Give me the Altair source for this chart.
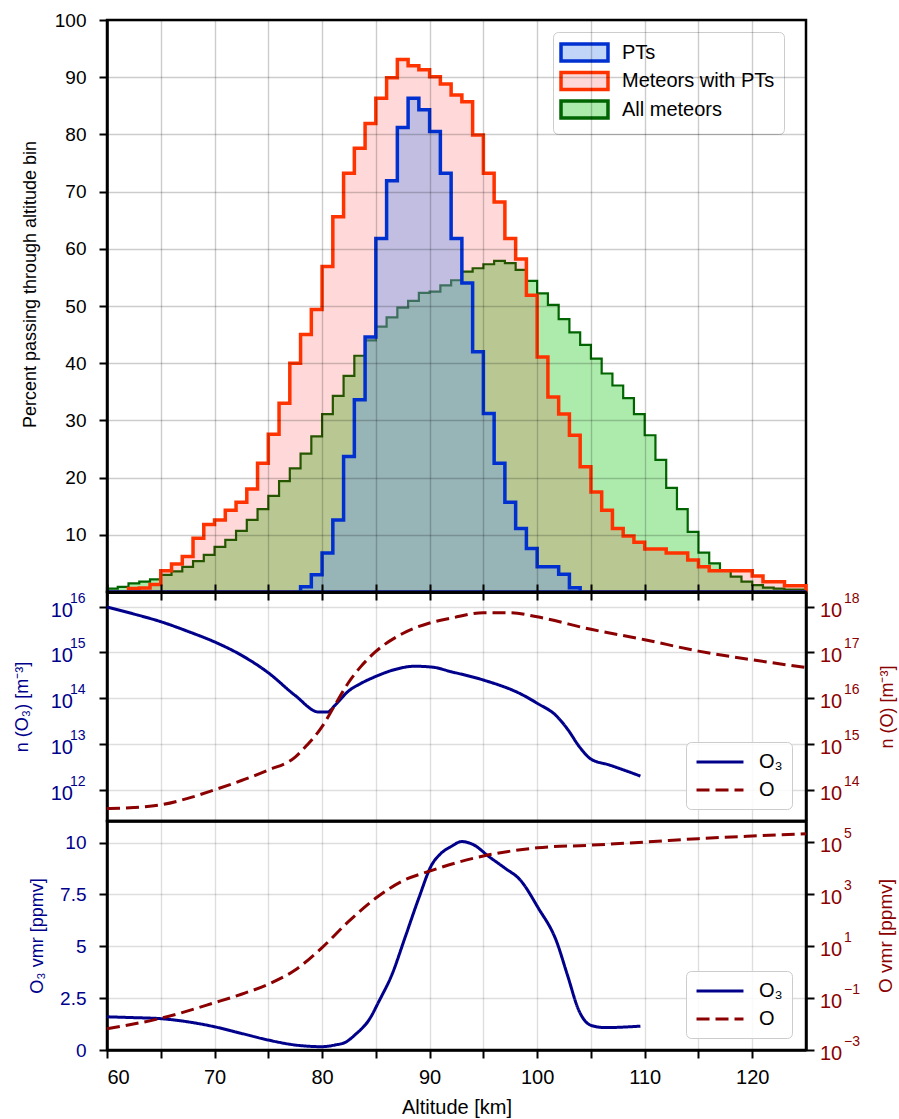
import altair as alt
import pandas as pd

FONT = "Liberation Sans"
NAVY = "#00008b"
DRED = "#8b0000"

# ---------------- histogram: 1 km bins, left edges 60 ... 124 km ----------------
bin_left = list(range(60, 125))
pts = [
    0, 0, 0, 0, 0, 0, 0, 0, 0, 0,                                  # 60-69
    0, 0, 0, 0, 0, 0, 0, 0, 0.9, 3.0,                              # 70-79
    6.8, 12.6, 23.7, 33.6, 44.6, 61.8, 71.9, 81.2, 86.3, 84.3,     # 80-89
    80.5, 73.2, 61.8, 54.0, 42.0, 31.2, 22.5, 15.7, 11.1, 7.6,     # 90-99
    4.4, 4.4, 3.1, 0.75, 0, 0, 0, 0, 0, 0,                         # 100-109
    0, 0, 0, 0, 0, 0, 0, 0, 0, 0,                                  # 110-119
    0, 0, 0, 0, 0,                                                 # 120-124
]
meteors_with_pts = [
    0, 0, 0.6, 0.7, 1.3, 3.7, 4.9, 6.2, 9.4, 11.8,
    12.6, 14.3, 15.7, 18.0, 22.5, 27.6, 33.0, 40.0, 45.0, 49.4,
    56.9, 65.6, 73.2, 77.6, 81.9, 86.3, 89.9, 93.1, 92.0, 91.3,
    90.1, 88.8, 86.9, 85.7, 79.9, 73.2, 68.2, 61.8, 58.2, 51.9,
    41.1, 34.1, 31.1, 27.4, 21.9, 17.5, 14.3, 11.1, 9.8, 8.7,
    7.5, 7.5, 6.8, 6.8, 5.6, 4.4, 3.7, 3.7, 3.7, 3.7,
    2.8, 1.8, 1.8, 1.1, 1.1,
]
all_meteors = [
    0.6, 0.9, 1.5, 1.8, 2.2, 3.0, 3.6, 4.4, 5.4, 6.5,
    7.9, 9.1, 10.7, 12.6, 14.5, 16.8, 19.4, 21.6, 24.2, 27.2,
    31.1, 34.3, 37.8, 41.3, 44.0, 46.4, 48.0, 49.7, 50.9, 52.3,
    52.5, 53.6, 54.5, 56.0, 56.6, 57.3, 57.9, 57.5, 56.3, 54.4,
    52.2, 50.2, 47.7, 45.4, 43.2, 40.8, 38.2, 36.1, 33.9, 31.1,
    27.4, 23.1, 18.2, 14.5, 10.5, 6.9, 5.0, 3.8, 2.7, 1.8,
    1.2, 0.75, 0.6, 0.4, 0.4,
]
series_names = ["PTs", "Meteors with PTs", "All meteors"]
series_fill = ["rgba(100,149,237,0.4)", "rgba(255,0,0,0.15)", "rgba(50,205,50,0.4)"]
series_edge = ["#0030d0", "#ff3300", "#006400"]

# ---------------- number densities [m^-3] ----------------
o3_dens_alt = [60, 62.5, 65, 67.5, 70, 72.5, 75, 77.5, 79.7, 80.5, 81.2,
               82.4, 83.6, 85, 86.7, 88.6, 90.2, 92, 95, 98.6, 100, 101.8, 102.9,
               103.9, 105, 106.7, 109.6]
o3_dens = [9.8e15, 6.9e15, 4.7e15, 2.9e15, 1.7e15, 8.7e14, 3.6e14, 1.15e14,
           5.0e13, 5.0e13, 7.0e13, 1.4e14, 2.1e14, 3.0e14, 4.2e14, 5.0e14,
           4.8e14, 3.8e14, 2.5e14, 1.2e14, 7.8e13, 4.1e13, 2.0e13, 8.9e12, 4.7e12,
           3.5e12, 2.0e12]
o_dens_alt = [60, 62.5, 65, 67.5, 70, 72.5, 75, 77.5, 78.6, 80, 81.1, 82.4, 83.6, 85,
              87.5, 90, 92, 95, 97.5, 100, 105, 110, 115, 120, 125]
o_dens = [3.9e13, 4.1e13, 4.7e13, 6.5e13, 1.0e14, 1.6e14, 2.7e14, 5.2e14, 9.5e14,
          2.4e15, 6.5e15, 2.1e16, 4.9e16, 1.05e17, 2.6e17, 4.4e17, 5.6e17, 7.4e17,
          7.4e17, 6.0e17, 3.2e17, 1.9e17, 1.07e17, 6.9e16, 4.7e16]

# ---------------- volume mixing ratios [ppmv] ----------------
o3_vmr_alt = [60, 62.5, 65, 67.5, 70, 72.5, 75, 77.5, 80, 81.2, 82.2, 83.1, 84.4, 85.3,
              86.5, 87.7, 89, 90.2, 91, 92, 93, 94.1, 95.5, 97, 98.4, 100.1, 101.8,
              102.8, 103.9, 105, 106.3, 109.6]
o3_vmr = [1.60, 1.56, 1.51, 1.36, 1.12, 0.80, 0.48, 0.24, 0.16, 0.24, 0.38, 0.75, 1.48,
          2.36, 3.64, 5.40, 7.33, 8.93, 9.45, 9.81, 10.05, 9.89, 9.33, 8.77, 8.21, 6.85,
          5.24, 3.64, 1.88, 1.19, 1.08, 1.15]
o_vmr_alt = [60, 65, 70, 72.5, 75, 77.5, 80, 82.5, 85, 87.5, 90, 92.5, 95, 100, 105,
             110, 115, 120, 125]
o_vmr = [6.6e-3, 1.66e-2, 6.6e-2, 0.14, 0.34, 1.2, 8.7, 91, 700, 3.2e3, 7.6e3, 1.6e4,
         2.9e4, 6.0e4, 7.6e4, 1.0e5, 1.35e5, 1.7e5, 2.1e5]

species = ["O\u2083", "O"]

# ---------------- ticks ----------------
x_ticks = list(range(60, 121, 5))
pct_ticks = [10, 20, 30, 40, 50, 60, 70, 80, 90, 100]
n_o3_ticks = [1e12, 1e13, 1e14, 1e15, 1e16]
n_o3_exp = ["12", "13", "14", "15", "16"]
n_o_ticks = [1e14, 1e15, 1e16, 1e17, 1e18]
n_o_exp = ["14", "15", "16", "17", "18"]
vmr_o3_ticks = [0, 2.5, 5, 7.5, 10]
vmr_o_ticks = [1e-3, 1e-1, 1e1, 1e3, 1e5]
vmr_o_exp = ["\u22123", "\u22121", "1", "3", "5"]

W = 699
H_TOP, H_MID, H_BOT = 572, 229, 229
TITLE_SIZE = 18

x_scale = alt.Scale(domain=[60, 125], nice=False, zero=False)

# ================= top panel: step histograms =================
rows = []
for name, vals in zip(series_names, [pts, meteors_with_pts, all_meteors]):
    for a, v in zip(bin_left, vals):
        rows.append({"series": name, "alt": a, "pct": v})
    rows.append({"series": name, "alt": 125, "pct": vals[-1]})
hist = pd.DataFrame(rows)

fill_scale = alt.Scale(domain=series_names, range=series_fill)
edge_scale = alt.Scale(domain=series_names, range=series_edge)
top_legend = alt.Legend(
    title=None, orient="none", legendX=446, legendY=12,
    symbolType="M-2.5,-0.9L2.5,-0.9L2.5,0.9L-2.5,0.9Z", symbolSize=353,
    symbolOffset=11, symbolStrokeWidth=3.5, labelFontSize=20, labelFont=FONT,
    labelOffset=26, fillColor="rgba(255,255,255,0.85)", strokeColor="#cccccc",
    cornerRadius=5, padding=9, rowPadding=-2.5,
)
x_top = alt.X("alt:Q", scale=x_scale,
              axis=alt.Axis(values=x_ticks, labels=False, title=None, tickSize=8,
                            grid=True, gridOpacity=0.2, zindex=1))
y_top = alt.Y("pct:Q", stack=None, scale=alt.Scale(domain=[0, 100], nice=False),
              axis=alt.Axis(values=pct_ticks, title="Percent passing through altitude bin",
                            titleX=-77, titleY=264, titleBaseline="middle",
                            titleFontSize=TITLE_SIZE, tickSize=8, labelPadding=13,
                            grid=True, gridOpacity=0.2, zindex=1))


def hist_area(name, width):
    return alt.Chart(hist).transform_filter(alt.datum.series == name).mark_area(
        interpolate="step-after", strokeWidth=width, opacity=1, strokeJoin="miter"
    ).encode(
        x=x_top, y=y_top,
        fill=alt.Fill("series:N", scale=fill_scale, legend=top_legend),
        stroke=alt.Stroke("series:N", scale=edge_scale, legend=top_legend),
    )


top = alt.layer(
    hist_area("All meteors", 2.2),
    hist_area("Meteors with PTs", 3.5),
    hist_area("PTs", 3.5),
).properties(width=W, height=H_TOP)


# ================= helpers for 10^n tick labels =================
def power_labels(values, exps, y_enc_field, scale, axis, color, base_x, base_align, exp_x):
    df = pd.DataFrame({y_enc_field: values, "base": ["10"] * len(values), "exp": exps})
    y_enc = alt.Y(f"{y_enc_field}:Q", scale=scale, axis=axis)
    base = alt.Chart(df).mark_text(font=FONT, fontSize=20, color=color, align=base_align,
                                   baseline="middle", dy=4).encode(
        x=alt.value(base_x), y=y_enc, text="base:N")
    sup = alt.Chart(df).mark_text(font=FONT, fontSize=14, color=color, align="left",
                                  baseline="middle", dy=-8).encode(
        x=alt.value(exp_x), y=y_enc, text="exp:N")
    return [base, sup]


stroke_scale = alt.Scale(domain=species, range=[NAVY, DRED])
dash_scale = alt.Scale(domain=species, range=[[1, 0], [13, 6]])


def line_legend():
    return alt.Legend(title=None, orient="none", legendX=579, legendY=150,
                      symbolType="M-2.5,0L2.5,0", symbolSize=353, symbolOffset=14,
                      symbolStrokeWidth=3, labelFontSize=20, labelFont=FONT,
                      labelOffset=28, fillColor="rgba(255,255,255,0.85)",
                      strokeColor="#cccccc", cornerRadius=5, padding=9, rowPadding=7)


# ================= middle panel: number densities =================
o3d = pd.DataFrame({"alt": o3_dens_alt, "n": o3_dens, "sp": species[0]})
od = pd.DataFrame({"alt": o_dens_alt, "n": o_dens, "sp": species[1]})
mid_left_scale = alt.Scale(type="log", domain=[10 ** 11.32, 10 ** 16.32], nice=False)
mid_right_scale = alt.Scale(type="log", domain=[10 ** 13.32, 10 ** 18.32], nice=False)

mid_left_axis = alt.Axis(values=n_o3_ticks, labels=False, tickSize=8, grid=True,
                         gridOpacity=0.13, title="n (O\u2083) [m\u207b\u00b3]",
                         titleColor=NAVY, titleX=-85, titleBaseline="middle",
                         titleFontSize=TITLE_SIZE)
mid_right_axis = alt.Axis(values=n_o_ticks, labels=False, tickSize=8, grid=False,
                          orient="right", title="n (O) [m\u207b\u00b3]", titleColor=DRED,
                          titleX=81, titleAngle=270, titleBaseline="middle",
                          titleFontSize=TITLE_SIZE)

o3d_line = alt.Chart(o3d).mark_line(strokeWidth=3, interpolate="monotone").encode(
    x=alt.X("alt:Q", scale=x_scale,
            axis=alt.Axis(values=x_ticks, labels=False, ticks=False, title=None,
                          grid=True, gridOpacity=0.13, orient="bottom")),
    y=alt.Y("n:Q", scale=mid_left_scale, axis=mid_left_axis),
    stroke=alt.Stroke("sp:N", scale=stroke_scale, legend=line_legend()),
    strokeDash=alt.StrokeDash("sp:N", scale=dash_scale, legend=line_legend()),
)
od_line = alt.Chart(od).mark_line(strokeWidth=3, interpolate="monotone").encode(
    x=alt.X("alt:Q", scale=x_scale,
            axis=alt.Axis(values=x_ticks, labels=False, ticks=True, tickSize=8, title=None,
                          grid=False, orient="top")),
    y=alt.Y("n:Q", scale=mid_right_scale, axis=mid_right_axis),
    stroke=alt.Stroke("sp:N", scale=stroke_scale, legend=line_legend()),
    strokeDash=alt.StrokeDash("sp:N", scale=dash_scale, legend=line_legend()),
)
mid_left = alt.layer(o3d_line, *power_labels(n_o3_ticks, n_o3_exp, "n", mid_left_scale,
                                             mid_left_axis, NAVY, -34, "right", -37))
mid_right = alt.layer(od_line, *power_labels(n_o_ticks, n_o_exp, "n", mid_right_scale,
                                             mid_right_axis, DRED, W + 14, "left", W + 38))
mid = alt.layer(mid_left, mid_right).resolve_scale(y="independent").resolve_axis(
    x="independent").properties(width=W, height=H_MID)

# ================= bottom panel: volume mixing ratios =================
o3v = pd.DataFrame({"alt": o3_vmr_alt, "v": o3_vmr, "sp": species[0]})
ov = pd.DataFrame({"alt": o_vmr_alt, "v": o_vmr, "sp": species[1]})
bot_left_scale = alt.Scale(domain=[0, 11.04], nice=False)
bot_right_scale = alt.Scale(type="log", domain=[1e-3, 10 ** 5.81], nice=False)

bot_x_axis = alt.Axis(values=x_ticks, labelExpr="datum.value % 10 == 0 ? datum.label : ''",
                      title="Altitude [km]", titleFontSize=20, tickSize=8, labelPadding=9,
                      labelFontSize=20, titlePadding=10, grid=True, gridOpacity=0.13)
bot_left_axis = alt.Axis(values=vmr_o3_ticks, labelExpr="toString(datum.value)",
                         labelColor=NAVY, tickSize=8, labelPadding=13, grid=True,
                         gridOpacity=0.13, title="O\u2083 vmr [ppmv]", titleColor=NAVY,
                         titleX=-70, titleBaseline="middle", titleFontSize=TITLE_SIZE)
bot_right_axis = alt.Axis(values=vmr_o_ticks, labels=False, tickSize=8, grid=False,
                          orient="right", title="O vmr [ppmv]", titleColor=DRED,
                          titleX=79, titleAngle=270, titleBaseline="middle",
                          titleFontSize=TITLE_SIZE + 1)

o3v_line = alt.Chart(o3v).mark_line(strokeWidth=3, interpolate="monotone").encode(
    x=alt.X("alt:Q", scale=x_scale, axis=bot_x_axis),
    y=alt.Y("v:Q", scale=bot_left_scale, axis=bot_left_axis),
    stroke=alt.Stroke("sp:N", scale=stroke_scale, legend=line_legend()),
    strokeDash=alt.StrokeDash("sp:N", scale=dash_scale, legend=line_legend()),
)
ov_line = alt.Chart(ov).mark_line(strokeWidth=3, interpolate="monotone").encode(
    x=alt.X("alt:Q", scale=x_scale, axis=bot_x_axis),
    y=alt.Y("v:Q", scale=bot_right_scale, axis=bot_right_axis),
    stroke=alt.Stroke("sp:N", scale=stroke_scale, legend=line_legend()),
    strokeDash=alt.StrokeDash("sp:N", scale=dash_scale, legend=line_legend()),
)
bot_left = alt.layer(o3v_line)
bot_right = alt.layer(ov_line, *power_labels(vmr_o_ticks, vmr_o_exp, "v", bot_right_scale,
                                             bot_right_axis, DRED, W + 14, "left", W + 38))
bot = alt.layer(bot_left, bot_right).resolve_scale(y="independent").properties(
    width=W, height=H_BOT)

chart = alt.vconcat(top, mid, bot, spacing=0, bounds="flush").resolve_scale(
    fill="independent", stroke="independent", strokeDash="independent"
).resolve_legend(fill="independent", stroke="independent", strokeDash="independent").properties(
    autosize=alt.AutoSizeParams(type="none"),
    padding={"left": 107, "top": 20, "right": 93, "bottom": 1099},
).configure(font=FONT).configure_view(stroke="black", strokeWidth=2.5).configure_axis(
    domainColor="black", domainWidth=2.5, tickColor="black", tickWidth=2,
    labelFont=FONT, labelFontSize=19, labelColor="black",
    titleFont=FONT, titleFontSize=16, titleFontWeight="normal", titleColor="black",
    gridColor="black", gridWidth=1.4,
)

chart.save("out.html", embed_options={"renderer": "svg", "actions": False})
